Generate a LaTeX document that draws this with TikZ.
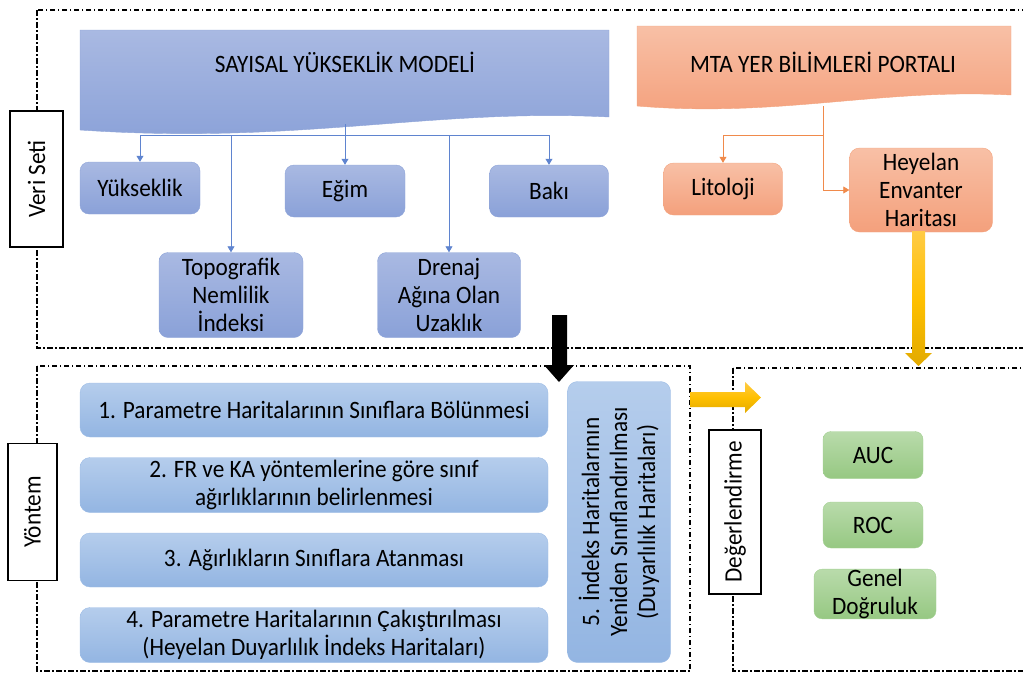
\documentclass[tikz,border=0pt]{standalone}
\usepackage{fontspec}
\setmainfont{Carlito}[FakeStretch=0.93]
\usetikzlibrary{arrows.meta}
\definecolor{bluetop}{HTML}{A9B9E2}
\definecolor{bluebot}{HTML}{8AA1D8}
\definecolor{blueedge}{HTML}{8EA4D8}
\definecolor{ltop}{HTML}{B5CDEC}
\definecolor{lbot}{HTML}{93B5E2}
\definecolor{ledge}{HTML}{9EBDE6}
\definecolor{otop}{HTML}{F8C0A6}
\definecolor{obot}{HTML}{F4A07C}
\definecolor{oedge}{HTML}{F3A47F}
\definecolor{gtop}{HTML}{B9DBAB}
\definecolor{gbot}{HTML}{96C882}
\definecolor{gedge}{HTML}{A3D092}
\definecolor{bconn}{HTML}{5F84CF}
\definecolor{oconn}{HTML}{F08A4B}
\definecolor{ytop}{HTML}{FFCB45}
\definecolor{ymid}{HTML}{FFC000}
\definecolor{ybot}{HTML}{E2AA00}
\tikzset{
  txt/.style={font=\fontsize{25}{28}\selectfont, align=center, inner sep=0pt, text=black},
  dashbox/.style={draw=black, line width=1.1pt, dash pattern=on 5.5pt off 2.5pt on 1.5pt off 2.5pt},
  labelbox/.style={txt, draw=black, line width=1.1pt, fill=white, rotate=90},
  bluebox/.style={txt, rounded corners=9pt, draw=blueedge, top color=bluetop, bottom color=bluebot},
  lbox/.style={txt, rounded corners=10pt, draw=ledge, top color=ltop, bottom color=lbot},
  obox/.style={txt, rounded corners=10pt, draw=oedge, top color=otop, bottom color=obot},
  gbox/.style={txt, rounded corners=8pt, draw=gedge, top color=gtop, bottom color=gbot},
  bconnector/.style={draw=bconn, line width=0.8pt, -{Triangle[width=7pt,length=6pt]}},
  oconnector/.style={draw=oconn, line width=0.8pt, -{Triangle[width=7pt,length=6pt]}},
}
\begin{document}
\begin{tikzpicture}[x=1pt,y=-1pt]
\useasboundingbox (0,0) rectangle (1023,673);
\clip (0,0) rectangle (1023,673);

% dashed group boxes
\draw[dashbox] (37,10) rectangle (1040,348);
\draw[dashbox] (37,366) rectangle (690,671);
\draw[dashbox] (733,368) rectangle (1040,671);

% banners
\path[draw=blueedge, top color=bluetop, bottom color=bluebot]
  (80,30) -- (609,30) -- (609,117) .. controls (430,108) and (300,145) .. (80,130) -- cycle;
\node[txt] (sym) at (345,62) {SAYISAL YÜKSEKLİK MODELİ};
\path[draw=oedge, top color=otop, bottom color=obot]
  (637,26) -- (1011,26) -- (1011,95) .. controls (880,88) and (780,118) .. (637,106) -- cycle;
\node[txt] (mta) at (823,62) {MTA YER BİLİMLERİ PORTALI};

% label boxes
\node[labelbox, minimum width=136pt, minimum height=53pt] (veri) at (36.5,179) {Veri Seti};
\node[labelbox, minimum width=137pt, minimum height=49pt] (yontem) at (32.5,512) {Yöntem};
\node[labelbox, minimum width=164pt, minimum height=52pt] (deg) at (735,512) {Değerlendirme};

% Veri Seti nodes
\node[bluebox, minimum width=120pt, minimum height=52pt] (yuk) at (140,188) {Yükseklik};
\node[bluebox, minimum width=120pt, minimum height=52pt] (egim) at (345,191) {Eğim};
\node[bluebox, minimum width=119pt, minimum height=52pt] (baki) at (549,191) {Bakı};
\node[bluebox, minimum width=144pt, minimum height=85pt] (topo) at (231,295) {Topografik\\Nemlilik\\İndeksi};
\node[bluebox, minimum width=143pt, minimum height=85pt] (dren) at (449,295) {Drenaj\\Ağına Olan\\Uzaklık};
\node[obox, minimum width=119pt, minimum height=52pt] (lit) at (723,189) {Litoloji};
\node[obox, minimum width=143pt, minimum height=84pt] (hey) at (921,190) {Heyelan\\Envanter\\Haritası};

% connectors (blue)
\coordinate (symb) at (345,124);
\coordinate (hub) at (345,135);
\draw[draw=bconn, line width=0.8pt] (symb) -- (hub);
\draw[bconnector] (hub) -| (yuk.north);
\draw[bconnector] (hub) -| (topo.north);
\draw[bconnector] (hub) -- (egim.north);
\draw[bconnector] (hub) -| (dren.north);
\draw[bconnector] (hub) -| (baki.north);

% connectors (orange)
\coordinate (mtab) at (823,106);
\coordinate (mtaj) at (823,135);
\draw[oconnector] (mtab) |- (hey.west);
\draw[oconnector] (mtaj) -| (lit.north);

% Yöntem nodes
\node[lbox, minimum width=468pt, minimum height=54pt] (m1) at (314,410) {1. Parametre Haritalarının Sınıflara Bölünmesi};
\node[lbox, minimum width=468pt, minimum height=55pt] (m2) at (314,485) {2. FR ve KA yöntemlerine göre sınıf\\ağırlıklarının belirlenmesi};
\node[lbox, minimum width=468pt, minimum height=54pt] (m3) at (314,560) {3. Ağırlıkların Sınıflara Atanması};
\node[lbox, minimum width=468pt, minimum height=55pt] (m4) at (314,635) {4. Parametre Haritalarının Çakıştırılması\\(Heyelan Duyarlılık İndeks Haritaları)};
\node[lbox, rotate=90, minimum width=281pt, minimum height=103pt] (m5) at (619,522) {5. İndeks Haritalarının\\Yeniden Sınıflandırılması\\(Duyarlılık Haritaları)};

% Değerlendirme nodes
\node[gbox, minimum width=100pt, minimum height=47pt] (auc) at (873,455) {AUC};
\node[gbox, minimum width=100pt, minimum height=46pt] (roc) at (873,525) {ROC};
\node[gbox, minimum width=122pt, minimum height=48pt] (gen) at (875,594) {Genel\\Doğruluk};

% block arrows
\fill[black] (552,315) -- (567,315) -- (567,365) -- (574,365) -- (559,382) -- (544,365) -- (552,365) -- cycle;
\path[top color=ytop, bottom color=ybot, middle color=ymid]
  (912,231) -- (925,231) -- (925,353) -- (932,353) -- (918.5,366) -- (905,353) -- (912,353) -- cycle;
\path[top color=ytop, bottom color=ybot, middle color=ymid]
  (690,392) -- (745,392) -- (745,382) -- (761,397.5) -- (745,413) -- (745,407) -- (690,407) -- cycle;
\end{tikzpicture}
\end{document}
